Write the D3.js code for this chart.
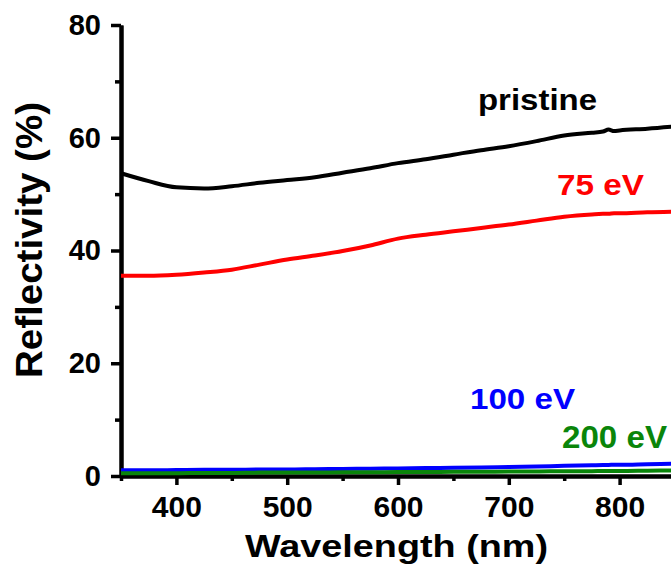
<!DOCTYPE html>
<html>
<head>
<meta charset="utf-8">
<script src="https://cdn.jsdelivr.net/npm/d3@7"></script>
<style>
  body { margin: 0; background: #fff; }
  text { font-family: "Liberation Sans", Arial, sans-serif; font-weight: bold; }
</style>
</head>
<body>
<div id="chart"></div>
<script>
// wavelength grid (nm)
var wavelengths = [350, 375, 400, 425, 450, 475, 500, 525, 550, 575, 600, 625, 650, 675, 700, 725, 750, 775, 785, 790, 795, 800, 825, 850];

// reflectivity (%)
var pristine = [53.7, 52.3, 51.2, 51.0, 51.4, 52.0, 52.5, 53.0, 53.8, 54.6, 55.5, 56.2, 57.0, 57.8, 58.5, 59.4, 60.4, 60.9, 61.1, 61.45, 61.2, 61.3, 61.6, 62.0];
var ev75     = [35.5, 35.5, 35.7, 36.1, 36.6, 37.5, 38.4, 39.1, 39.9, 40.9, 42.1, 42.8, 43.4, 44.0, 44.6, 45.3, 46.0, 46.4, 46.5, 46.5, 46.6, 46.6, 46.8, 46.9];
var ev100    = [1.0, 1.0, 1.05, 1.1, 1.1, 1.15, 1.15, 1.2, 1.25, 1.3, 1.35, 1.4, 1.45, 1.5, 1.6, 1.7, 1.8, 1.9, 1.95, 1.95, 2.0, 2.0, 2.1, 2.2];
var ev200    = [0.5, 0.5, 0.5, 0.55, 0.55, 0.6, 0.6, 0.6, 0.65, 0.65, 0.7, 0.7, 0.75, 0.75, 0.8, 0.8, 0.85, 0.85, 0.9, 0.9, 0.9, 0.9, 0.95, 1.0];

var seriesNames  = ["pristine", "75 eV", "100 eV", "200 eV"];
var seriesColors = ["#000000", "#ff0000", "#0000ff", "#0a850a"];

var xMajor = [400, 500, 600, 700, 800];
var xMinor = [350, 450, 550, 650, 750, 850];
var yMajor = [0, 20, 40, 60, 80];
var yMinor = [10, 30, 50, 70];

var svgWidth = 671;
var svgHeight = 567;

var svg = d3.select("#chart")
            .append("svg")
            .attr("width", svgWidth)
            .attr("height", svgHeight);

var xScale = d3.scaleLinear().domain([350, 850]).range([121, 675]);
var yScale = d3.scaleLinear().domain([0, 80]).range([476, 25]);

// curves
var allSeries = [pristine, ev75, ev100, ev200];
var line = d3.line()
             .x(function(d, i) { return xScale(wavelengths[i]); })
             .y(function(d) { return yScale(d); })
             .curve(d3.curveMonotoneX);

// draw curves after axes so the low ones sit over the x axis line
function drawCurve(idx) {
    svg.append("path")
       .datum(allSeries[idx])
       .attr("fill", "none")
       .attr("stroke", seriesColors[idx])
       .attr("stroke-width", 4)
       .attr("d", line);
}

// axes
var yAxisG = svg.append("g").attr("transform", "translate(121,0)");
yAxisG.call(d3.axisLeft(yScale).tickValues(yMajor).tickSize(10).tickSizeOuter(0).tickPadding(10));
yAxisG.append("g").call(d3.axisLeft(yScale).tickValues(yMinor).tickSize(6).tickSizeOuter(0).tickFormat(""));

var xAxisG = svg.append("g").attr("transform", "translate(0,476)");
xAxisG.call(d3.axisBottom(xScale).tickValues(xMajor).tickSize(9).tickSizeOuter(0).tickPadding(10));
xAxisG.append("g").call(d3.axisBottom(xScale).tickValues(xMinor).tickSize(5).tickSizeOuter(0).tickFormat(""));

svg.selectAll(".domain").attr("stroke", "#000").attr("stroke-width", 4);
svg.selectAll(".tick line").attr("stroke", "#000").attr("stroke-width", 3.5);
yAxisG.selectAll(".tick text").attr("font-size", 29).attr("fill", "#000")
      .attr("font-family", "Liberation Sans, Arial, sans-serif").attr("font-weight", "bold");
xAxisG.selectAll(".tick text").attr("font-size", 30).attr("fill", "#000")
      .attr("font-family", "Liberation Sans, Arial, sans-serif").attr("font-weight", "bold")
      .attr("dy", "0.74em");

[0, 1, 2, 3].forEach(drawCurve);

// axis titles
svg.append("text")
   .attr("x", 245).attr("y", 557)
   .attr("font-size", 32)
   .attr("textLength", 303).attr("lengthAdjust", "spacingAndGlyphs")
   .text("Wavelength (nm)");

svg.append("text")
   .attr("transform", "translate(42,378) rotate(-90)")
   .attr("font-size", 37)
   .attr("textLength", 276).attr("lengthAdjust", "spacingAndGlyphs")
   .text("Reflectivity (%)");

// series labels
var labelX = [478, 557, 470, 562];
var labelY = [110, 195, 409, 448];
var labelW = [119, 87, 105, 105];
var labelSize = [30, 30, 30, 31];
svg.selectAll(".serieslabel")
   .data(seriesNames)
   .enter()
   .append("text")
   .attr("class", "serieslabel")
   .attr("x", function(d, i) { return labelX[i]; })
   .attr("y", function(d, i) { return labelY[i]; })
   .attr("font-size", function(d, i) { return labelSize[i]; })
   .attr("fill", function(d, i) { return seriesColors[i]; })
   .attr("textLength", function(d, i) { return labelW[i]; })
   .attr("lengthAdjust", "spacingAndGlyphs")
   .text(function(d) { return d; });
</script>
</body>
</html>
